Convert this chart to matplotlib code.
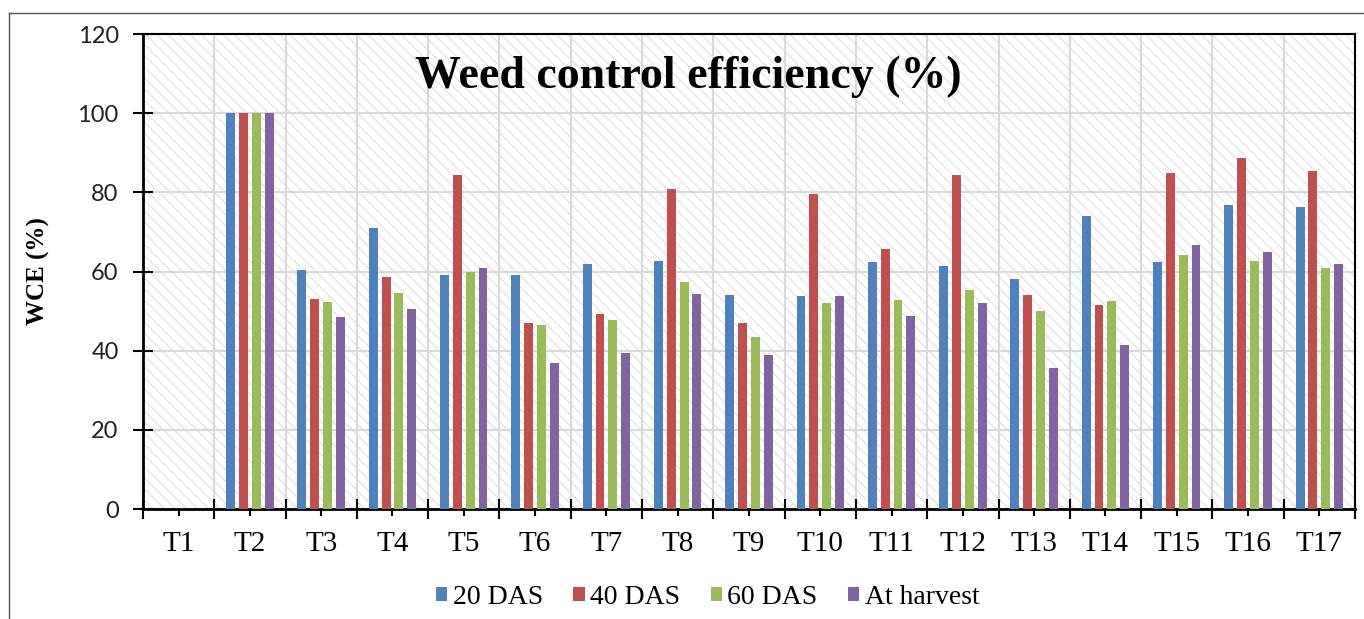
import numpy as np
import matplotlib
matplotlib.use("Agg")
import matplotlib.pyplot as plt
from matplotlib.patches import Rectangle
from matplotlib.lines import Line2D

# data
treatments = ["T%d" % i for i in range(1, 18)]
das20 = [0, 100, 60.3, 71.0, 59.0, 59.2, 62.0, 62.7, 54.0, 53.8, 62.3, 61.5, 58.0, 74.0, 62.3, 76.8, 76.2]
das40 = [0, 100, 53.1, 58.5, 84.5, 47.0, 49.2, 80.8, 47.0, 79.5, 65.8, 84.5, 54.0, 51.6, 85.0, 88.7, 85.5]
das60 = [0, 100, 52.2, 54.6, 60.0, 46.6, 47.8, 57.3, 43.5, 52.0, 52.7, 55.3, 50.0, 52.6, 64.2, 62.6, 61.0]
harvest = [0, 100, 48.5, 50.6, 61.0, 37.0, 39.4, 54.2, 39.0, 53.8, 48.8, 52.0, 35.6, 41.4, 66.8, 65.0, 61.8]
series_names = ["20 DAS", "40 DAS", "60 DAS", "At harvest"]
colors = ["#4F81BD", "#C0504D", "#9BBB59", "#8064A2"]

serif = ["Liberation Serif", "DejaVu Serif"]
plt.rcParams["hatch.linewidth"] = 0.9

fig = plt.figure(figsize=(13.64, 6.19), dpi=100)
ax = fig.add_axes([0.1048, 0.1777, 0.8886, 0.7673])

# outer border (top and left visible)
fig.add_artist(Line2D([9/1364, 1.0], [1-13/619, 1-13/619], transform=fig.transFigure, color="#555555", lw=1))
fig.add_artist(Line2D([9/1364, 9/1364], [0, 1-13/619], transform=fig.transFigure, color="#555555", lw=1))

# hatched plot background
ax.add_patch(Rectangle((0, 0), 1, 1, transform=ax.transAxes, facecolor="white",
                       edgecolor="#E4E4E4", hatch="\\\\\\", lw=0, zorder=0))

x = np.arange(len(treatments))
w = 0.125
step = 0.18
all_vals = [das20, das40, das60, harvest]
for i, (vals, name, c) in enumerate(zip(all_vals, series_names, colors)):
    ax.bar(x + (i - 1.5) * step, vals, width=w, color=c, label=name, zorder=3)

ax.set_xlim(-0.5, len(treatments) - 0.5)
ax.set_ylim(0, 120)

# grid
ax.set_yticks(np.arange(0, 121, 20))
ax.set_xticks(np.arange(-0.5, len(treatments), 1.0))
ax.set_xticklabels([])
ax.set_xticks(x, minor=True)
ax.set_xticklabels(treatments, minor=True, fontfamily=serif, fontsize=21)
ax.grid(True, which="major", color="#D9D9D9", lw=1.5, zorder=1)
ax.set_axisbelow(True)

ax.tick_params(axis="y", direction="inout", length=15, width=1.5, pad=10, labelsize=17)
ax.tick_params(axis="x", which="major", direction="inout", length=14, width=1.5)
ax.tick_params(axis="x", which="minor", direction="out", length=5, width=1.5, pad=11)
for lab in ax.get_yticklabels():
    lab.set_fontfamily(["Lato", "DejaVu Sans"])
    lab.set_color("#222222")

for s in ax.spines.values():
    s.set_color("black")
    s.set_linewidth(1.5)
ax.spines["left"].set_linewidth(2)
ax.spines["bottom"].set_linewidth(2)

ax.set_ylabel("WCE (%)", fontfamily=serif, fontsize=18, fontweight="bold")
ax.yaxis.set_label_coords(-0.077, 0.5)

ax.text(0.4497, 0.909, "Weed control efficiency (%)", transform=ax.transAxes,
        ha="center", va="center", fontfamily=serif, fontsize=33, fontweight="bold", zorder=5)

leg = ax.legend(loc="center", bbox_to_anchor=(0.466, -0.187), ncol=4, frameon=False,
                prop={"family": serif, "size": 20}, handlelength=0.4, handleheight=0.4,
                handletextpad=0.2, columnspacing=1.1)

fig.savefig("out.png", dpi=100)
